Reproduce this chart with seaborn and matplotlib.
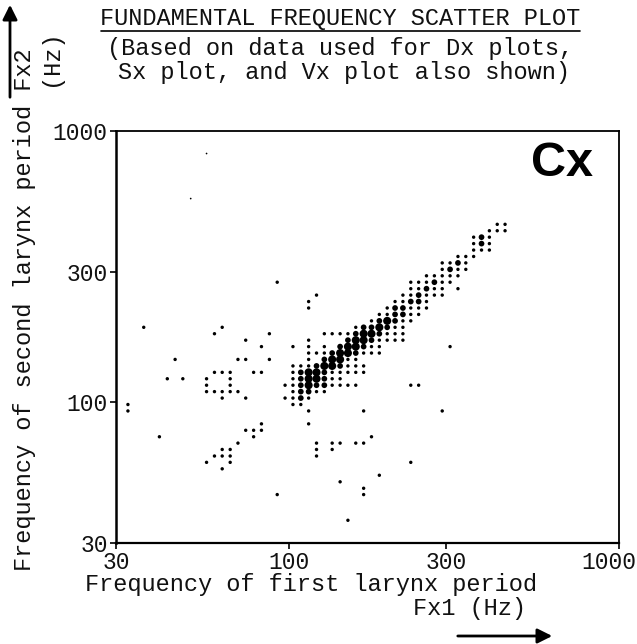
import matplotlib
matplotlib.use("Agg")
import matplotlib.pyplot as plt
import matplotlib.transforms as mtrans
import seaborn as sns
import pandas as pd
from matplotlib.lines import Line2D

# ---------------- data ----------------
# centre frequencies (Hz) of the logarithmic histogram bins used on both axes
BIN_HZ = [30.9, 32.6, 34.4, 36.4, 38.4, 40.6, 42.9, 45.3, 47.8, 50.5,
          53.4, 56.4, 59.6, 62.9, 66.5, 70.2, 74.1, 78.3, 82.7, 87.4,
          92.3, 97.5, 103.0, 108.8, 114.9, 121.4, 128.2, 135.4, 143.1, 151.1,
          159.6, 168.6, 178.1, 188.1, 198.7, 209.9, 221.7, 234.2, 247.4, 261.3,
          276.1, 291.6, 308.0, 325.4, 343.7, 363.0, 383.5, 405.1, 427.9, 451.9,
          477.4, 504.3, 532.7, 562.7, 594.3, 627.8, 663.2, 700.5, 739.9, 781.6,
          825.6, 872.1]

# Fx2 bin of each row of dots
ROW_FX2_BIN = [60, 53, 49, 48, 47, 46, 45, 44, 43, 42, 41, 40, 39, 38, 37, 36,
               35, 34, 33, 32, 31, 30, 29, 28, 27, 26, 25, 24, 23, 22, 21, 20,
               18, 17, 16, 15, 14, 13, 12, 11, 10, 9, 8, 7, 3]

# Fx1 bins of the dots in each row
ROW_FX1_BINS = [
    [11], [9],
    [48, 49],
    [47, 48, 49],
    [45, 46, 47],
    [45, 46, 47],
    [45, 46, 47],
    [43, 44, 45],
    [41, 42, 43, 44],
    [41, 42, 43, 44],
    [39, 40, 41, 42, 43],
    [20, 37, 38, 39, 40, 41, 42],
    [37, 38, 39, 40, 41, 43],
    [25, 36, 37, 38, 39, 40, 41],
    [24, 35, 36, 37, 38, 39],
    [24, 34, 35, 36, 37, 38, 39],
    [33, 34, 35, 36, 37, 38],
    [32, 33, 34, 35, 36, 37],
    [3, 13, 30, 31, 32, 33, 34, 35, 36],
    [12, 19, 26, 27, 28, 29, 30, 31, 32, 33, 34, 35, 36],
    [16, 24, 29, 30, 31, 32, 33, 34, 35, 36],
    [18, 22, 24, 26, 28, 29, 30, 31, 32, 33, 42],
    [24, 25, 26, 27, 28, 29, 30, 31, 32, 33],
    [7, 15, 16, 19, 24, 26, 27, 28, 29, 30],
    [22, 23, 24, 25, 26, 27, 28, 29, 30, 31],
    [12, 13, 14, 17, 18, 22, 23, 24, 25, 26, 27, 28, 29, 30, 31],
    [6, 8, 11, 14, 22, 23, 24, 25, 26, 27, 28],
    [11, 14, 21, 22, 23, 24, 25, 26, 27, 28, 29, 30, 37, 38],
    [11, 12, 13, 14, 15, 22, 23, 24, 25, 26],
    [13, 16, 21, 22, 23, 24],
    [1, 22, 23],
    [1, 24, 31, 41],
    [18, 24],
    [16, 17, 18],
    [5, 17, 32],
    [15, 25, 27, 28, 30, 31],
    [13, 14, 25, 27],
    [12, 13, 14, 25],
    [11, 14, 37],
    [13],
    [33],
    [28],
    [31],
    [20, 31],
    [29],
]

# relative number of occurrences (dot size class) of each dot
ROW_COUNTS = [
    [0], [0],
    [1, 1],
    [1, 1, 1],
    [1, 2, 1],
    [1, 2, 1],
    [1, 1, 1],
    [1, 1, 1],
    [1, 1, 2, 1],
    [1, 2, 1, 1],
    [1, 1, 1, 1, 1],
    [1, 1, 1, 1, 2, 1, 1],
    [1, 1, 2, 1, 1, 1],
    [1, 1, 1, 2, 1, 1, 1],
    [1, 1, 1, 2, 2, 1],
    [1, 1, 2, 2, 1, 1, 1],
    [1, 1, 2, 2, 1, 1],
    [1, 2, 3, 2, 1, 1],
    [1, 1, 1, 2, 2, 3, 2, 1, 1],
    [1, 1, 1, 1, 1, 1, 2, 3, 3, 2, 1, 1, 1],
    [1, 1, 2, 3, 3, 2, 1, 1, 1, 1],
    [1, 1, 1, 1, 2, 3, 3, 2, 1, 1, 1],
    [1, 1, 1, 2, 3, 3, 2, 1, 1, 1],
    [1, 1, 1, 1, 1, 2, 3, 3, 1, 1],
    [1, 1, 1, 2, 3, 3, 2, 1, 1, 1],
    [1, 1, 1, 1, 1, 1, 2, 3, 3, 2, 1, 1, 1, 1, 1],
    [1, 1, 1, 1, 1, 2, 3, 3, 2, 1, 1],
    [1, 1, 1, 1, 2, 3, 2, 2, 1, 1, 1, 1, 1, 1],
    [1, 1, 1, 1, 1, 1, 2, 2, 1, 1],
    [1, 1, 1, 1, 2, 1],
    [1, 1, 1],
    [1, 1, 1, 1],
    [1, 1],
    [1, 1, 1],
    [1, 1, 1],
    [1, 1, 1, 1, 1, 1],
    [1, 1, 1, 1],
    [1, 1, 1, 1],
    [1, 1, 1],
    [1],
    [1],
    [1],
    [1],
    [1, 1],
    [1],
]

TICKS = [30, 100, 300, 1000]
TICK_LABELS = ["30", "100", "300", "1000"]

# ---------------- build table ----------------
recs = []
for yb, xbs, cs in zip(ROW_FX2_BIN, ROW_FX1_BINS, ROW_COUNTS):
    for xb, c in zip(xbs, cs):
        recs.append({"fx1": BIN_HZ[xb], "fx2": BIN_HZ[yb], "count": c})
df = pd.DataFrame(recs)

# ---------------- figure ----------------
sns.set_style("ticks")
MONO = ["Liberation Mono", "DejaVu Sans Mono"]
plt.rcParams["font.family"] = MONO

W, H = 637, 644
fig = plt.figure(figsize=(W / 100, H / 100), dpi=100)
fig.patch.set_facecolor("white")

def fx(px):
    return px / W

def fy(py):
    return 1 - py / H

L, R, T, B = 116, 619, 131, 543
ax = fig.add_axes([fx(L), fy(B), (R - L) / W, (B - T) / H])
ax.set_facecolor("white")

sns.scatterplot(data=df, x="fx1", y="fx2", size="count",
                sizes={0: 1.5, 1: 6, 2: 17, 3: 34},
                color="black", linewidth=0, marker="o", legend=False, ax=ax)

ax.set_xscale("log")
ax.set_yscale("log")
ax.set_xlim(30, 1000)
ax.set_ylim(30, 1000)
ax.set_xticks(TICKS)
ax.set_xticklabels(TICK_LABELS)
ax.set_yticks(TICKS)
ax.set_yticklabels(TICK_LABELS)
ax.minorticks_off()
ax.set_xlabel("")
ax.set_ylabel("")
ax.tick_params(axis="both", direction="out", length=4, width=1.2,
               color="black", labelsize=16.5, labelcolor="#111111", pad=2)
# the last x label sits a little to the left of the frame corner
lab = ax.get_xticklabels()[-1]
lab.set_transform(lab.get_transform() +
                  mtrans.ScaledTranslation(-10 / 100, 0, fig.dpi_scale_trans))
for s in ax.spines.values():
    s.set_visible(True)
    s.set_color("black")
    s.set_linewidth(1.3)
ax.spines["left"].set_linewidth(1.8)
ax.spines["bottom"].set_linewidth(1.6)

ax.text(0.948, 0.92, "Cx", transform=ax.transAxes, ha="right", va="center",
        fontsize=35, fontweight="bold", family="Liberation Sans", color="black")

TXT = dict(color="#111111", fontsize=17)
fig.text(fx(340), fy(19), "FUNDAMENTAL FREQUENCY SCATTER PLOT", ha="center", va="center", **TXT)
fig.add_artist(Line2D([fx(101), fx(580)], [fy(31), fy(31)], color="black", lw=1.2))
fig.text(fx(340), fy(49), "(Based on data used for Dx plots,", ha="center", va="center", **TXT)
fig.text(fx(344), fy(72), "Sx plot, and Vx plot also shown)", ha="center", va="center", **TXT)

fig.text(fx(311), fy(585), "Frequency of first larynx period", ha="center", va="center", **TXT)
fig.text(fx(469), fy(609), "Fx1 (Hz)", ha="center", va="center", **TXT)

fig.text(fx(25), fy(310), "Frequency of second larynx period Fx2", rotation=90,
         ha="center", va="center", **TXT)
fig.text(fx(50), fy(58), "(Hz)", rotation=90, ha="center", va="center", **TXT)

fig.add_artist(matplotlib.patches.FancyArrowPatch(
    (fx(455), fy(636)), (fx(555), fy(636)), transform=fig.transFigure,
    arrowstyle="-|>", mutation_scale=22, lw=2, color="black"))
fig.add_artist(matplotlib.patches.FancyArrowPatch(
    (fx(10), fy(100)), (fx(10), fy(2)), transform=fig.transFigure,
    arrowstyle="-|>", mutation_scale=22, lw=2, color="black"))

fig.savefig("out.png", dpi=100, facecolor="white")
